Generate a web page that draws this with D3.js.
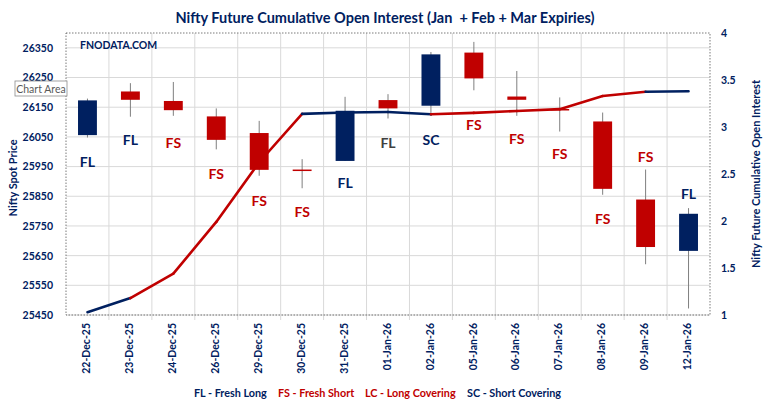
<!DOCTYPE html>
<html>
<head>
<meta charset="utf-8">
<script src="https://cdn.jsdelivr.net/npm/d3@7"></script>
<style>
  body { margin: 0; background: #fff; }
  svg { display: block; font-family: 'Lato', sans-serif; }
</style>
</head>
<body>
<div id="chart"></div>
<script>
const dates = ['22-Dec-25', '23-Dec-25', '24-Dec-25', '26-Dec-25', '29-Dec-25', '30-Dec-25', '31-Dec-25',
  '01-Jan-26', '02-Jan-26', '05-Jan-26', '06-Jan-26', '07-Jan-26', '08-Jan-26', '09-Jan-26', '12-Jan-26'];
const open = [26056, 26203, 26171, 26119, 26063, 25940, 25969, 26174, 26155, 26334, 26186, 26144, 26102, 25839, 25666];
const high = [26179, 26231, 26235, 26146, 26104, 25975, 26185, 26194, 26336, 26370, 26272, 26183, 26132, 25940, 25810];
const low = [26048, 26118, 26121, 26008, 25919, 25877, 25969, 26112, 26121, 26207, 26121, 26068, 25855, 25621, 25472];
const close = [26173, 26175, 26140, 26040, 25939, 25938, 26138, 26146, 26328, 26247, 26175, 26143, 25875, 25679, 25791];
const oi = [1.03, 1.18, 1.44, 1.99, 2.625, 3.14, 3.155, 3.16, 3.135, 3.15, 3.17, 3.19, 3.33, 3.375, 3.38];
const signal = ['FL', 'FL', 'FS', 'FS', 'FS', 'FS', 'FL', 'FL', 'SC', 'FS', 'FS', 'FS', 'FS', 'FS', 'FL'];
// price level where each signal label sits
const labelAt = [25967, 26041, 26031, 25927, 25836, 25799, 25896, 26031, 26041, 26091, 26044, 25994, 25776, 25984, 25859];
const priceTicks = [25450, 25550, 25650, 25750, 25850, 25950, 26050, 26150, 26250, 26350];
const oiTicks = [1, 1.5, 2, 2.5, 3, 3.5, 4];
const legend = [
  { text: 'FL - Fresh Long', key: 'FL' },
  { text: 'FS - Fresh Short', key: 'FS' },
  { text: 'LC - Long Covering', key: 'LC' },
  { text: 'SC - Short Covering', key: 'SC' },
];

const width = 768;
const height = 404;
const margin = { top: 33, right: 58, bottom: 89, left: 66 };
const navy = '#002060';
const red = '#c00000';
const sigColor = { FL: navy, SC: navy, FS: red, LC: red };

const data = dates.map((d, i) => ({
  date: d, open: open[i], high: high[i], low: low[i], close: close[i], oi: oi[i], sig: signal[i], lab: labelAt[i],
}));

const svg = d3.select('#chart').append('svg')
  .attr('width', width)
  .attr('height', height);

const x = d3.scaleBand()
  .domain(dates)
  .range([margin.left, width - margin.right]);

const y = d3.scaleLinear()
  .domain([25450, 26400])
  .range([height - margin.bottom, margin.top]);

const y2 = d3.scaleLinear()
  .domain([1, 4])
  .range([height - margin.bottom, margin.top]);

const bottom = height - margin.bottom;
const cx = (d) => x(d) + x.bandwidth() / 2;

// grid
svg.append('g')
  .selectAll('line')
  .data(priceTicks.slice(1))
  .join('line')
  .attr('x1', margin.left)
  .attr('x2', width - margin.right)
  .attr('y1', (d) => y(d))
  .attr('y2', (d) => y(d))
  .attr('stroke', '#d9d9d9');

svg.append('g')
  .selectAll('line')
  .data(dates.slice(1))
  .join('line')
  .attr('x1', (d) => x(d))
  .attr('x2', (d) => x(d))
  .attr('y1', margin.top)
  .attr('y2', bottom + 5)
  .attr('stroke', '#d9d9d9');

svg.append('line')
  .attr('x1', margin.left)
  .attr('x2', width - margin.right)
  .attr('y1', bottom)
  .attr('y2', bottom)
  .attr('stroke', '#d9d9d9');

// plot border (dotted)
svg.append('rect')
  .attr('x', margin.left)
  .attr('y', margin.top)
  .attr('width', width - margin.left - margin.right)
  .attr('height', bottom - margin.top)
  .attr('fill', 'none')
  .attr('stroke', '#595959')
  .attr('stroke-width', 0.8)
  .attr('stroke-dasharray', '1.5,1.5');

// left axis
const yAxis = svg.append('g')
  .attr('transform', `translate(${margin.left},0)`)
  .call(d3.axisLeft(y).tickValues(priceTicks).tickSize(0).tickPadding(13).tickFormat(d3.format('d')));
yAxis.select('.domain').remove();
yAxis.selectAll('text')
  .style('font', "bold 10.5px 'Lato', sans-serif")
  .attr('fill', navy);

// right axis
const y2Axis = svg.append('g')
  .attr('transform', `translate(${width - margin.right},0)`)
  .call(d3.axisRight(y2).tickValues(oiTicks).tickSize(0).tickPadding(11).tickFormat(d3.format('~g')));
y2Axis.select('.domain').remove();
y2Axis.selectAll('text')
  .style('font', "bold 10.5px 'Lato', sans-serif")
  .attr('fill', navy);

// x axis
const xAxis = svg.append('g')
  .attr('transform', `translate(0,${bottom})`)
  .call(d3.axisBottom(x).tickSize(0));
xAxis.select('.domain').remove();
xAxis.selectAll('text')
  .style('font', "bold 10.5px 'Lato', sans-serif")
  .attr('fill', navy)
  .attr('text-anchor', 'end')
  .attr('dominant-baseline', 'middle')
  .attr('transform', 'translate(0,8) rotate(-90)')
  .attr('x', 0)
  .attr('y', 0)
  .attr('dy', null);

// candles
const bw = x.bandwidth() * 0.44;
const candle = svg.append('g')
  .selectAll('g')
  .data(data)
  .join('g')
  .attr('transform', (d) => `translate(${cx(d.date)},0)`);

candle.append('line')
  .attr('y1', (d) => y(d.high))
  .attr('y2', (d) => y(d.low))
  .attr('stroke', '#7f7f7f')
  .attr('stroke-width', 1);

candle.append('rect')
  .attr('x', -bw / 2)
  .attr('width', bw)
  .attr('y', (d) => y(Math.max(d.open, d.close)))
  .attr('height', (d) => Math.max(1.5, Math.abs(y(d.open) - y(d.close))))
  .attr('fill', (d) => (d.close >= d.open ? navy : red));

// OI line, each day-to-day piece coloured by the signal of the day it ends on
const line = d3.line()
  .x((d) => cx(d.date))
  .y((d) => y2(d.oi));

svg.append('g')
  .selectAll('path')
  .data(d3.pairs(data))
  .join('path')
  .attr('d', (p) => line(p))
  .attr('fill', 'none')
  .attr('stroke', (p) => sigColor[p[1].sig])
  .attr('stroke-width', 2.6)
  .attr('stroke-linecap', 'round');

// signal labels
svg.append('g')
  .selectAll('text')
  .data(data)
  .join('text')
  .attr('x', (d) => cx(d.date))
  .attr('y', (d) => y(d.lab))
  .attr('text-anchor', 'middle')
  .attr('dominant-baseline', 'central')
  .style('font', "bold 14px 'Lato', sans-serif")
  .attr('fill', (d, i) => (i === 7 ? '#404040' : sigColor[d.sig]))
  .text((d) => d.sig);

// titles
svg.append('text')
  .attr('x', 385)
  .attr('y', 17)
  .attr('text-anchor', 'middle')
  .attr('dominant-baseline', 'central')
  .attr('xml:space', 'preserve')
  .style('font', "bold 14.5px 'Lato', sans-serif")
  .style('white-space', 'pre')
  .attr('fill', navy)
  .text('Nifty Future Cumulative Open Interest (Jan  + Feb + Mar Expiries)');

svg.append('text')
  .attr('transform', `translate(12,${(margin.top + bottom) / 2 + 4}) rotate(-90)`)
  .attr('text-anchor', 'middle')
  .attr('dominant-baseline', 'central')
  .style('font', "bold 11px 'Lato', sans-serif")
  .attr('fill', navy)
  .text('Nifty Spot Price');

svg.append('text')
  .attr('transform', `translate(755,${(margin.top + bottom) / 2}) rotate(-90)`)
  .attr('text-anchor', 'middle')
  .attr('dominant-baseline', 'central')
  .style('font', "bold 11px 'Lato', sans-serif")
  .attr('fill', navy)
  .text('Nifty Future Cumulative Open Interest');

svg.append('text')
  .attr('x', 80)
  .attr('y', 45)
  .attr('dominant-baseline', 'central')
  .style('font', "bold 10.5px 'Lato', sans-serif")
  .attr('fill', navy)
  .text('FNODATA.COM');

// "Chart Area" hover box
const tip = svg.append('g').attr('transform', 'translate(15,81)');
tip.append('rect')
  .attr('width', 52)
  .attr('height', 15)
  .attr('fill', '#fff')
  .attr('stroke', '#8c8c8c')
  .attr('stroke-width', 0.8);
tip.append('text')
  .attr('x', 26)
  .attr('y', 7.5)
  .attr('text-anchor', 'middle')
  .attr('dominant-baseline', 'central')
  .style('font', "10.5px 'Lato', sans-serif")
  .attr('fill', '#595959')
  .text('Chart Area');

// legend
const legendX = [194, 278, 365, 467];
svg.append('g')
  .selectAll('text')
  .data(legend)
  .join('text')
  .attr('x', (d, i) => legendX[i])
  .attr('y', 392)
  .attr('dominant-baseline', 'central')
  .style('font', "bold 10.8px 'Lato', sans-serif")
  .attr('fill', (d) => sigColor[d.key])
  .text((d) => d.text);
</script>
</body>
</html>
